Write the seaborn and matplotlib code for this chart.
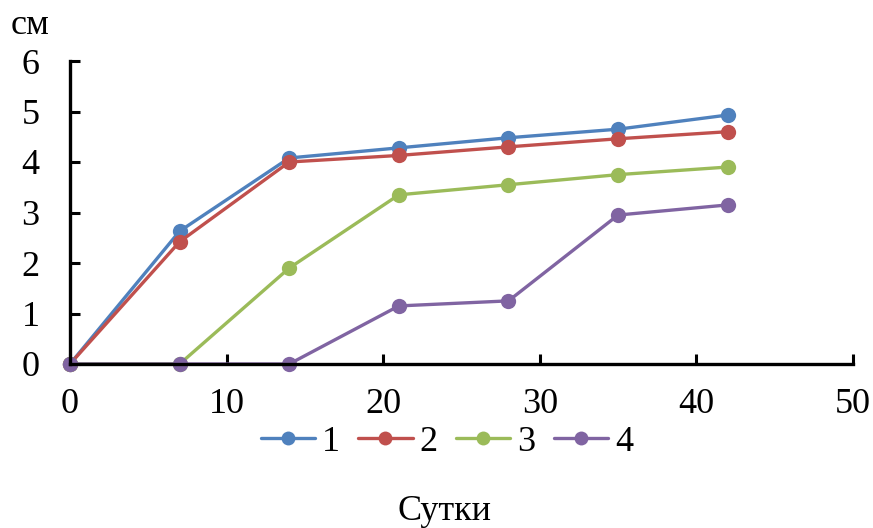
import numpy as np
import pandas as pd
import matplotlib
matplotlib.use("Agg")
import matplotlib.pyplot as plt
import seaborn as sns

# Daten
sutki = [0, 7, 14, 21, 28, 35, 42]
ser1 = [0, 2.63, 4.08, 4.28, 4.48, 4.65, 4.93]
ser2 = [0, 2.42, 4.0, 4.13, 4.3, 4.46, 4.6]
ser3 = [0, 0, 1.9, 3.35, 3.55, 3.75, 3.9]
ser4 = [0, 0, 0, 1.15, 1.25, 2.95, 3.15]
labels = ["1", "2", "3", "4"]
farben = ["#4F81BD", "#C0504D", "#9BBB59", "#8064A2"]

df = pd.DataFrame({"Сутки": sutki * 4,
                   "см": ser1 + ser2 + ser3 + ser4,
                   "serie": [l for l in labels for _ in sutki]})

sns.set_style("white")
plt.rcParams['font.family'] = ['Liberation Serif', 'DejaVu Serif']
plt.rcParams['text.color'] = 'black'
plt.rcParams['xtick.color'] = 'black'
plt.rcParams['ytick.color'] = 'black'

fig = plt.figure(figsize=(8.73, 5.28), dpi=100)
ax = fig.add_axes([70/873, 1-364/528, (853-70)/873, (364-61)/528])

sns.lineplot(data=df, x="Сутки", y="см", hue="serie", palette=farben,
             marker="o", markersize=11, markeredgewidth=0, linewidth=2.4,
             ax=ax, clip_on=False)

ax.set_xlim(0, 50)
ax.set_ylim(0, 6)
ax.set_xticks([0, 10, 20, 30, 40, 50])
ax.set_yticks(range(7))
ax.tick_params(bottom=True, left=True, direction="in", length=7, width=2.2,
               labelsize=26, colors="black")
ax.tick_params(axis="x", pad=17)
ax.tick_params(axis="y", pad=22)
for s in ["top", "right"]:
    ax.spines[s].set_visible(False)
for s in ["left", "bottom"]:
    ax.spines[s].set_linewidth(2.4)
    ax.spines[s].set_color("black")
ax.set_xlabel("")
ax.set_ylabel("")

h, l = ax.get_legend_handles_labels()
for hh in h:
    hh.set_markersize(10)
ax.legend(h, l, loc="center", bbox_to_anchor=(447/873, 1-442/528),
          bbox_transform=fig.transFigure, ncol=4, frameon=False, fontsize=26,
          handlelength=1.5, handletextpad=0.2, columnspacing=0.5)

fig.text(445/873, 1-511/528, "Сутки", fontsize=26, ha="center", va="center")
fig.text(30/873, 1-25/528, "см", fontsize=26, ha="center", va="center")

fig.savefig("out.png", dpi=100)
